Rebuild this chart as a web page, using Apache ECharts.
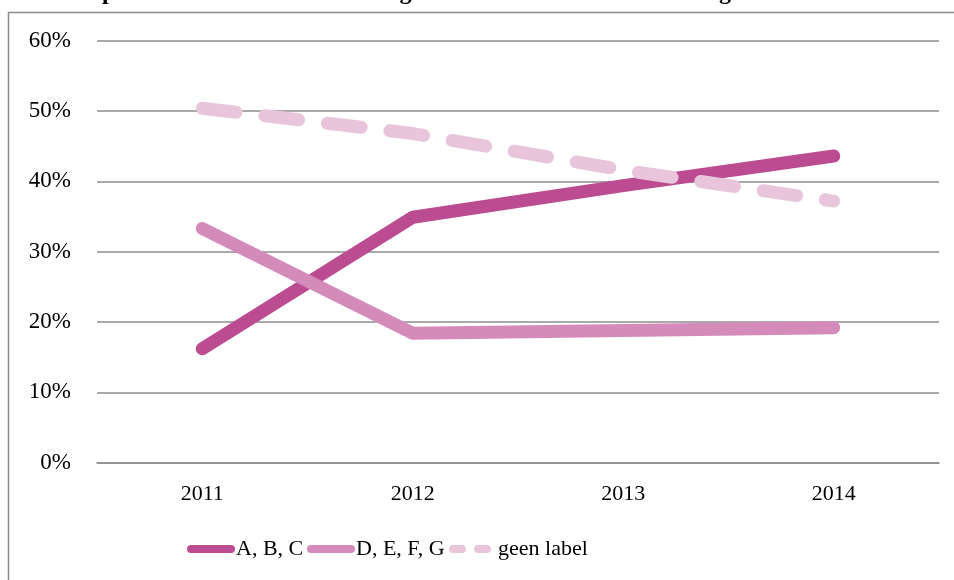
<!DOCTYPE html>
<html>
<head>
<meta charset="utf-8">
<script src="https://cdn.jsdelivr.net/npm/echarts@6/dist/echarts.min.js"></script>
<style>
  html, body { margin: 0; padding: 0; background: #fff; }
  #chart { width: 954px; height: 580px; }
</style>
</head>
<body>
<div id="chart"></div>
<script>
// Share of private cars per fuel-efficiency label, The Hague 2011-2014
const titleText = "Aandeel particuliere auto's naar zuinigheidslabel 2011-2014 Den Haag";
const years = ['2011', '2012', '2013', '2014'];
const labelABC = [0.162, 0.349, 0.394, 0.436];
const labelDEFG = [0.333, 0.184, 0.188, 0.192];
const labelNone = [0.504, 0.468, 0.416, 0.372];
const seriesNames = ['A, B, C', 'D, E, F, G', 'geen label'];

const colors = ['#BC4C91', '#D58BBA', '#E9C5DB'];
const serif = "'Liberation Serif', 'DejaVu Serif', serif";

const chart = echarts.init(document.getElementById('chart'), null, { renderer: 'canvas' });

function lineSeries(name, data, color, dashed) {
  return {
    name: name,
    type: 'line',
    data: data,
    symbol: 'none',
    color: color,
    lineStyle: {
      color: color,
      width: 13,
      cap: 'round',
      join: 'round',
      type: dashed ? [34, 29] : 'solid'
    },
    emphasis: { disabled: true }
  };
}

// one legend block per series so each key sits at its own spot
function legendBlock(name, left, dashed) {
  return {
    left: left,
    top: 533,
    itemWidth: 40,
    itemHeight: 22,
    textStyle: { fontFamily: serif, fontSize: 22, color: '#000' },
    data: [{
      name: name,
      itemStyle: { opacity: 0 },
      lineStyle: { width: 8, cap: 'round', type: dashed ? [9, 16] : 'solid' }
    }]
  };
}

chart.setOption({
  animation: false,
  backgroundColor: '#fff',
  graphic: [
    {
      type: 'rect',
      shape: { x: 8.5, y: 12.5, width: 960, height: 600 },
      style: { fill: 'none', stroke: '#8c8c8c', lineWidth: 1.5 },
      silent: true,
      z: -1
    },
    {
      type: 'text',
      left: 12,
      top: -19,
      style: {
        text: titleText,
        font: "bold 24px " + serif,
        fill: '#000'
      },
      silent: true
    }
  ],
  grid: { left: 97, right: 15, top: 40.7, bottom: 117.3, containLabel: false },
  legend: [
    legendBlock(seriesNames[0], 182, false),
    legendBlock(seriesNames[1], 302, false),
    legendBlock(seriesNames[2], 444, true)
  ],
  xAxis: {
    type: 'category',
    data: years,
    boundaryGap: true,
    axisLine: { show: true, lineStyle: { color: '#8c8c8c', width: 1.5 } },
    axisTick: { show: false },
    axisLabel: { color: '#000', fontFamily: serif, fontSize: 22, margin: 21 }
  },
  yAxis: {
    type: 'value',
    min: 0,
    max: 0.6,
    interval: 0.1,
    axisLine: { show: false },
    axisTick: { show: false },
    splitLine: { lineStyle: { color: '#8c8c8c', width: 1.5 } },
    axisLabel: {
      color: '#000',
      fontFamily: serif,
      fontSize: 23,
      margin: 26,
      formatter: function (v) { return Math.round(v * 100) + '%'; }
    }
  },
  series: [
    lineSeries(seriesNames[0], labelABC, colors[0], false),
    lineSeries(seriesNames[1], labelDEFG, colors[1], false),
    lineSeries(seriesNames[2], labelNone, colors[2], true)
  ]
});
</script>
</body>
</html>
